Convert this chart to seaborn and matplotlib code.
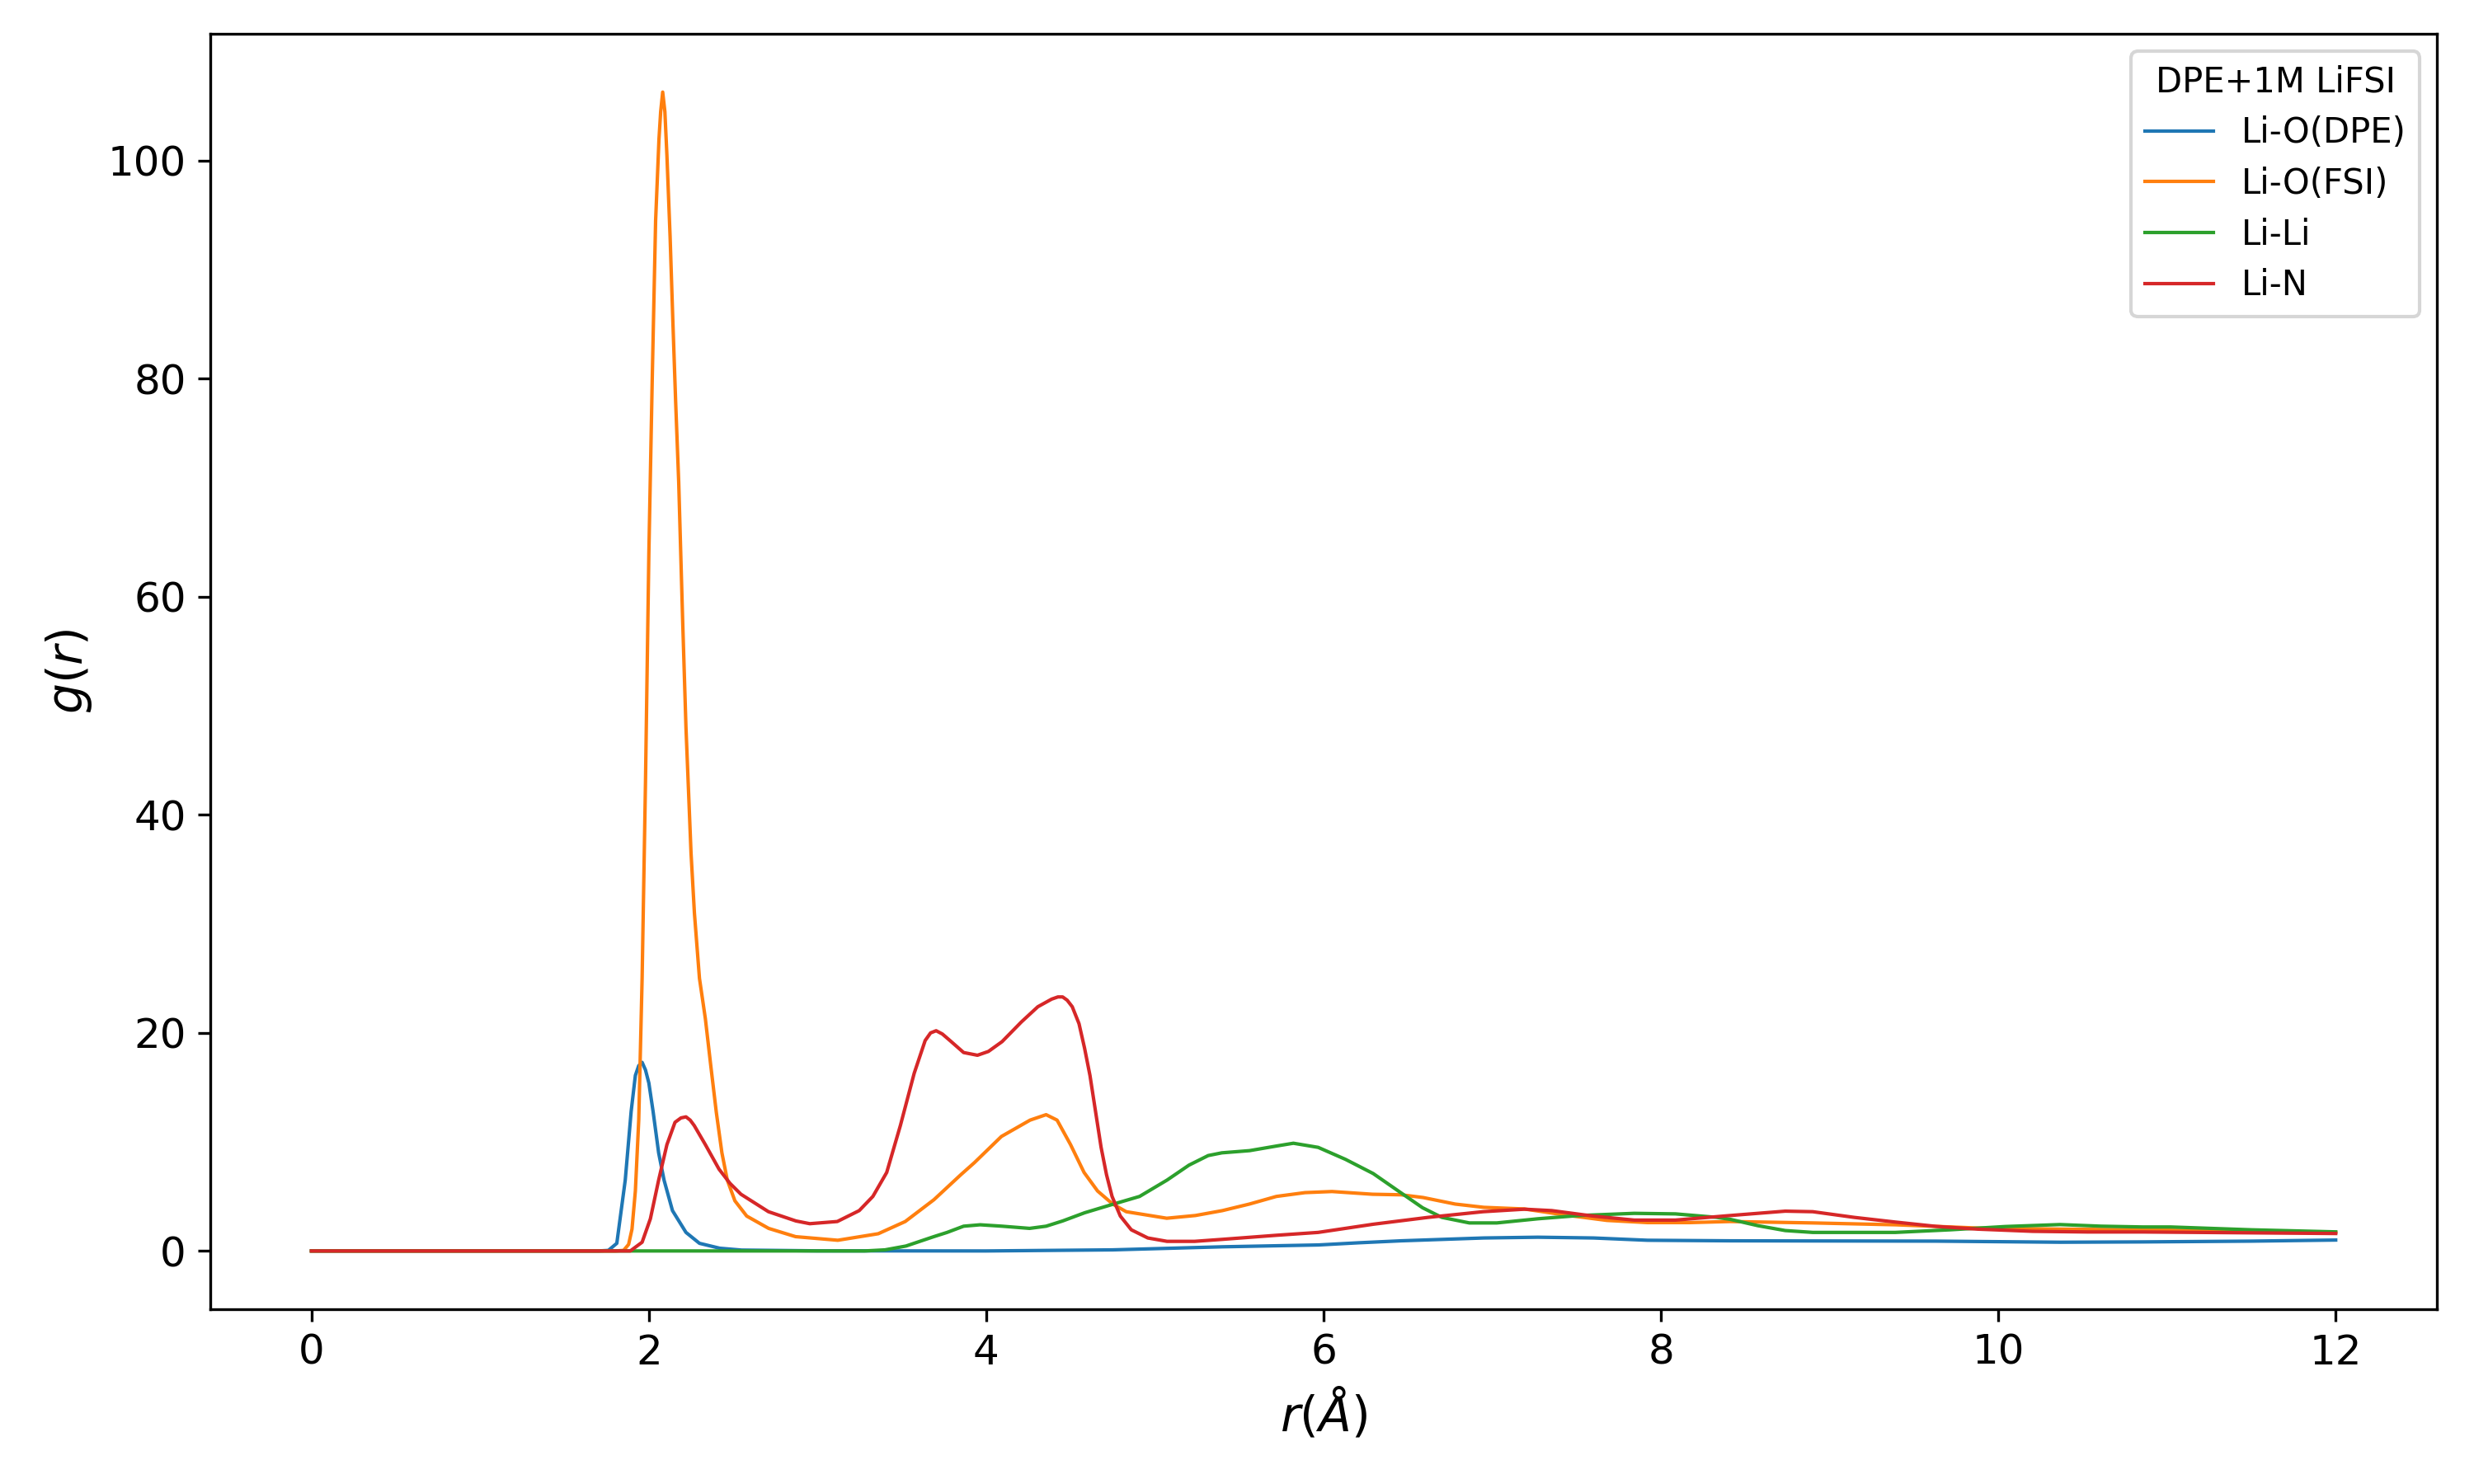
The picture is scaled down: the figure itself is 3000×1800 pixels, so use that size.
import pandas as pd
import matplotlib
matplotlib.use('Agg')
import matplotlib.pyplot as plt
import seaborn as sns

# Radial distribution functions, DPE + 1M LiFSI
r_dpe = [0, 1.70, 1.76, 1.81, 1.86, 1.895, 1.92, 1.94, 1.96, 1.98, 2.0, 2.025, 2.058, 2.09,
         2.14, 2.22, 2.30, 2.42, 2.55, 3.0, 4.0, 4.75, 5.4, 5.97, 6.21, 6.46, 6.95, 7.27,
         7.6, 7.92, 8.41, 9.63, 10.37, 10.86, 11.5, 12.0]
g_dpe = [0, 0, 0.05, 0.7, 6.5, 12.8, 16.1, 17.0, 17.3, 16.6, 15.4, 12.8, 9.0, 6.5,
         3.7, 1.7, 0.7, 0.25, 0.08, 0.01, 0.0, 0.1, 0.38, 0.55, 0.75, 0.93, 1.19, 1.26,
         1.19, 0.98, 0.93, 0.9, 0.8, 0.83, 0.9, 1.0]

r_fsi = [0, 1.80, 1.85, 1.88, 1.90, 1.92, 1.94, 1.96, 1.98, 2.00, 2.02, 2.04, 2.06, 2.07,
         2.082, 2.095, 2.107, 2.126, 2.142, 2.159, 2.177, 2.20, 2.22, 2.25, 2.27, 2.30,
         2.335, 2.367, 2.40, 2.433, 2.465, 2.51, 2.58, 2.71, 2.87, 3.12, 3.36, 3.52, 3.69,
         3.85, 3.93, 4.01, 4.09, 4.26, 4.355, 4.42, 4.50, 4.58, 4.66, 4.75, 4.83, 5.07,
         5.24, 5.40, 5.56, 5.72, 5.89, 6.05, 6.29, 6.46, 6.59, 6.78, 6.95, 7.19, 7.43,
         7.68, 7.92, 8.17, 8.41, 8.9, 9.39, 9.88, 10.37, 10.86, 12.0]
g_fsi = [0, 0, 0.05, 0.6, 2.0, 5.5, 12.0, 25.0, 43.0, 64.0, 80.0, 94.5, 102.0, 104.5,
         106.3, 104.5, 100.5, 93.0, 85.4, 77.8, 70.5, 58.0, 48.0, 36.5, 31.0, 25.0,
         21.3, 17.0, 12.7, 9.0, 6.5, 4.6, 3.2, 2.07, 1.31, 0.98, 1.58, 2.7, 4.7,
         7.0, 8.1, 9.3, 10.5, 12.0, 12.5, 12.0, 9.75, 7.2, 5.5, 4.3, 3.6, 3.0,
         3.25, 3.7, 4.3, 5.0, 5.35, 5.45, 5.2, 5.15, 4.9, 4.3, 4.0, 3.85, 3.3,
         2.8, 2.6, 2.6, 2.7, 2.57, 2.4, 2.1, 2.0, 1.94, 1.7]

r_lili = [0, 3.28, 3.40, 3.524, 3.687, 3.768, 3.866, 3.964, 4.094, 4.257, 4.355, 4.453,
          4.583, 4.746, 4.909, 5.072, 5.202, 5.316, 5.397, 5.561, 5.723, 5.821, 5.968,
          6.13, 6.294, 6.457, 6.587, 6.701, 6.864, 7.027, 7.27, 7.516, 7.841, 8.086, 8.33,
          8.411, 8.574, 8.737, 8.9, 9.389, 9.715, 10.04, 10.366, 10.61, 10.855, 11.02,
          11.5, 12.0]
g_lili = [0, 0, 0.1, 0.45, 1.3, 1.7, 2.27, 2.4, 2.27, 2.07, 2.27, 2.75,
          3.5, 4.26, 5.0, 6.5, 7.87, 8.75, 9.0, 9.2, 9.63, 9.88, 9.5,
          8.4, 7.1, 5.35, 3.96, 3.08, 2.57, 2.57, 2.95, 3.25, 3.45, 3.4, 3.08,
          2.9, 2.32, 1.87, 1.7, 1.7, 1.94, 2.24, 2.42, 2.27, 2.2, 2.2,
          1.94, 1.75]

r_lin = [0, 1.89, 1.96, 2.009, 2.058, 2.107, 2.155, 2.19, 2.22, 2.245, 2.269, 2.335,
         2.416, 2.481, 2.546, 2.709, 2.872, 2.954, 3.117, 3.247, 3.328, 3.41, 3.491,
         3.573, 3.638, 3.67, 3.703, 3.74, 3.785, 3.866, 3.948, 4.013, 4.094, 4.208,
         4.306, 4.388, 4.425, 4.453, 4.48, 4.51, 4.55, 4.583, 4.615, 4.648, 4.681,
         4.713, 4.746, 4.795, 4.86, 4.958, 5.072, 5.235, 5.397, 5.723, 5.968, 6.294,
         6.62, 6.945, 7.19, 7.353, 7.597, 7.841, 8.086, 8.411, 8.737, 8.9, 9.145,
         9.389, 9.633, 9.878, 10.204, 10.53, 10.855, 12.0]
g_lin = [0, 0, 0.8, 2.95, 6.5, 9.75, 11.8, 12.2, 12.3, 12.0, 11.5, 9.75,
         7.5, 6.2, 5.2, 3.6, 2.75, 2.5, 2.7, 3.7, 5.0, 7.2, 11.5,
         16.3, 19.3, 20.0, 20.2, 19.9, 19.3, 18.2, 17.95, 18.3, 19.2, 21.0,
         22.4, 23.1, 23.3, 23.3, 23.0, 22.4, 20.85, 18.6, 16.1, 12.8, 9.5,
         7.0, 5.0, 3.2, 1.94, 1.19, 0.88, 0.88, 1.06, 1.44, 1.7, 2.45,
         3.08, 3.6, 3.83, 3.7, 3.2, 2.83, 2.83, 3.25, 3.65, 3.6, 3.08,
         2.65, 2.25, 2.0, 1.8, 1.74, 1.74, 1.6]

pairs = ['Li-O(DPE)', 'Li-O(FSI)', 'Li-Li', 'Li-N']
colors = ['#1f77b4', '#ff7f0e', '#2ca02c', '#d62728']

# Long-format table for seaborn
frames = []
for name, r, g in zip(pairs, [r_dpe, r_fsi, r_lili, r_lin], [g_dpe, g_fsi, g_lili, g_lin]):
    frames.append(pd.DataFrame({'r': r, 'g': g, 'pair': name}))
df = pd.concat(frames, ignore_index=True)

fig, ax = plt.subplots(figsize=(10, 6), dpi=300)
sns.lineplot(data=df, x='r', y='g', hue='pair', hue_order=pairs, palette=colors,
             linewidth=1, errorbar=None, ax=ax)

ax.set_xlabel(r'$r(\AA)$', fontsize=14)
ax.set_ylabel(r'$g(r)$', fontsize=14)
ax.tick_params(labelsize=12)
ax.legend(title='DPE+1M LiFSI', loc='upper right', fontsize=10, title_fontsize=10,
          labelspacing=0.47)

plt.subplots_adjust(left=0.085, right=0.985, top=0.977, bottom=0.118)
plt.savefig('out.png', dpi=300)
plt.close()
